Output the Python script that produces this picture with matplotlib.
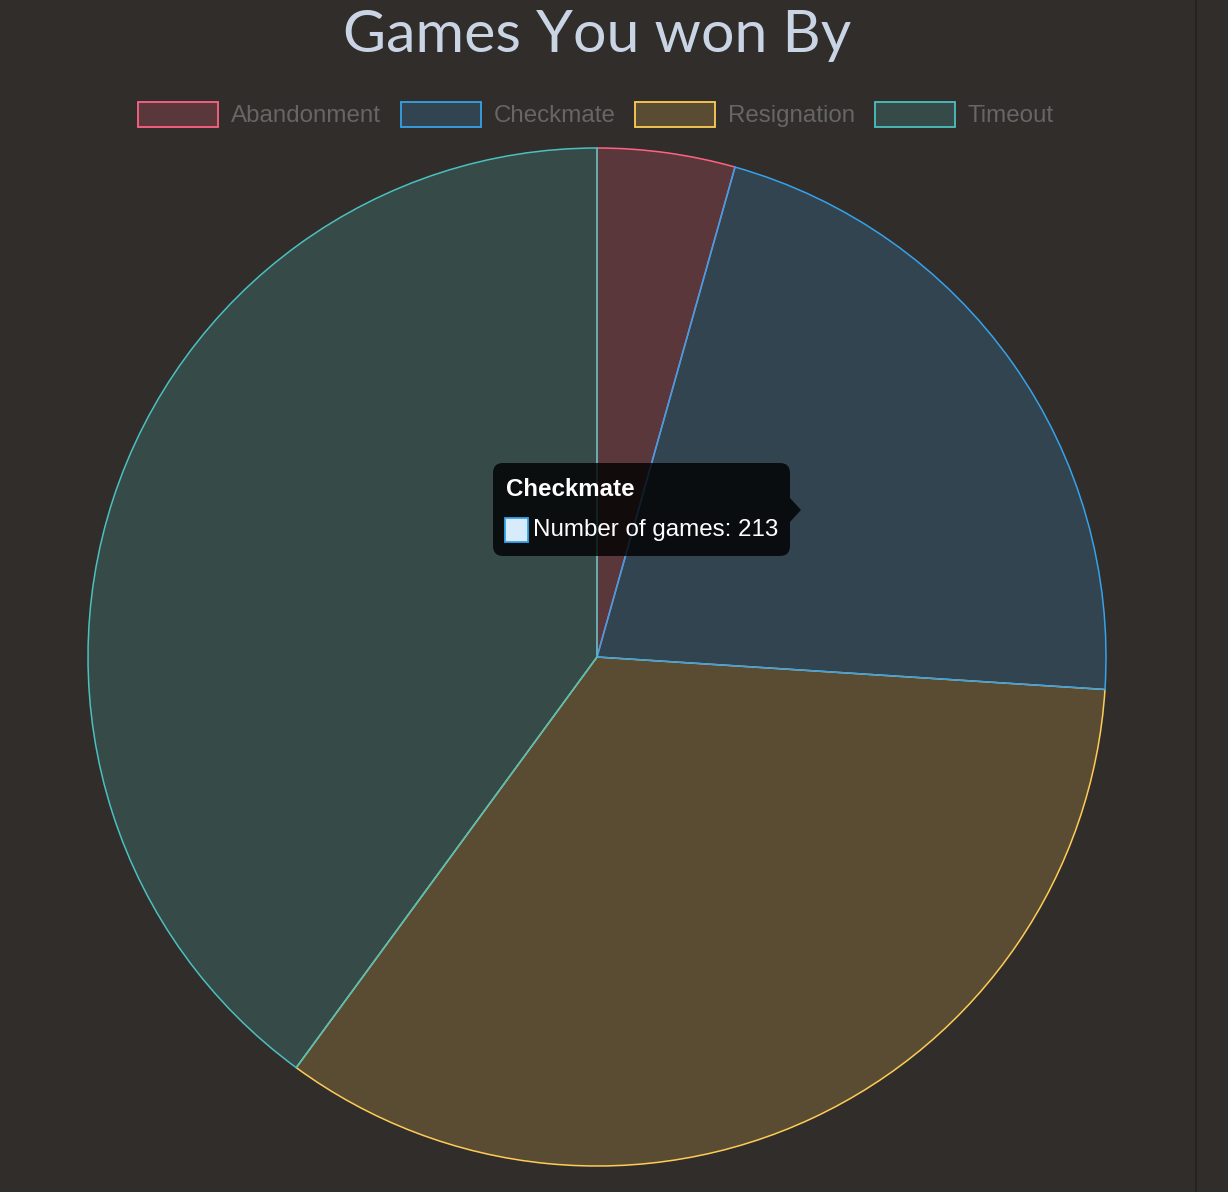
import matplotlib
matplotlib.use("Agg")
import matplotlib.pyplot as plt
from matplotlib.patches import FancyBboxPatch, Polygon, Rectangle
from matplotlib.colors import to_rgba

# ---- data ----
categories = ["Abandonment", "Checkmate", "Resignation", "Timeout"]
games = [43, 213, 335, 393]
edge_colors = ["#ff6384", "#36a2eb", "#ffcd56", "#4bc0c0"]
title = "Games You won By"
tooltip_title = "Checkmate"
tooltip_label = "Number of games"

BG = "#312d2a"
W, H = 1228, 1192
DPI = 100

fig = plt.figure(figsize=(W / DPI, H / DPI), dpi=DPI, facecolor=BG)

# ---- pie ----
cx, cy, r = 597, 657, 509
pax = fig.add_axes([(cx - r) / W, (H - cy - r) / H, 2 * r / W, 2 * r / H])
pax.set_facecolor(BG)
fills = [to_rgba(c, 0.2) for c in edge_colors]
wedges, _ = pax.pie(games, colors=fills, startangle=90, counterclock=False,
                    radius=1.0, wedgeprops=dict(linewidth=1.1))
zorders = [1, 3, 2, 4]
for w, ec, z in zip(wedges, edge_colors, zorders):
    w.set_edgecolor(ec)
    w.set_zorder(z)
    w.set_clip_on(False)
pax.set_xlim(-1.0, 1.0)
pax.set_ylim(-1.0, 1.0)
pax.set_aspect("auto")
pax.axis("off")

# ---- overlay ----
ov = fig.add_axes([0, 0, 1, 1], facecolor="none")
ov.set_xlim(0, W)
ov.set_ylim(H, 0)
ov.axis("off")

# right divider line
ov.plot([1196, 1196], [0, H], color="#25221f", lw=1.5)

# title
ov.text(597, 36, title, ha="center", va="center", fontsize=42.6,
        family="Lato", color="#c9d5e5")

# legend
fig.canvas.draw()
renderer = fig.canvas.get_renderer()
x = 138
ly = 114
for cat, ec, fc in zip(categories, edge_colors, fills):
    ov.add_patch(Rectangle((x, ly - 12), 80, 25, facecolor=fc, edgecolor=ec, lw=1.3))
    t = ov.text(x + 93, ly + 2, cat, ha="left", va="center", fontsize=17.4,
                family="Liberation Sans", color="#666666")
    bb = t.get_window_extent(renderer)
    x = x + 93 + bb.width + 19.5

# tooltip
tip = FancyBboxPatch((493, 463), 297, 93, boxstyle="round,pad=0,rounding_size=10",
                     facecolor=(0, 0, 0, 0.8), edgecolor="none", zorder=10)
ov.add_patch(tip)
ov.add_patch(Polygon([[790, 498], [801, 510], [790, 522]], closed=True,
                     facecolor=(0, 0, 0, 0.8), edgecolor="none", zorder=10))
ov.text(506, 490, tooltip_title, ha="left", va="center", fontsize=17.35,
        family="Liberation Sans", weight="bold", color="white", zorder=11)
ov.add_patch(Rectangle((505, 518), 23, 24, facecolor="#d8ebfa",
                       edgecolor=edge_colors[1], lw=1.3, zorder=11))
ov.text(533, 530, f"{tooltip_label}: {games[1]}", ha="left", va="center",
        fontsize=17.35, family="Liberation Sans", color="white", zorder=11)

fig.savefig("out.png", dpi=DPI, facecolor=BG)
